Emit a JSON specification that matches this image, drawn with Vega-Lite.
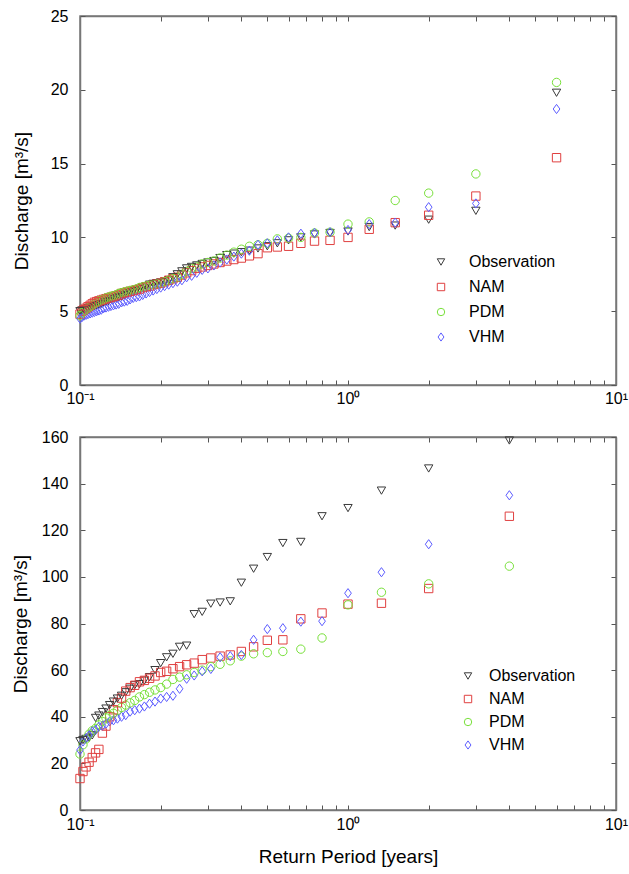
{
  "$schema": "https://vega.github.io/schema/vega-lite/v6.json",
  "padding": {"left": 10, "top": 7, "right": 6, "bottom": 5},
  "config": {
    "font": "Liberation Sans",
    "view": {"stroke": "#777777", "strokeWidth": 1.5},
    "axis": {
      "grid": false, "domainColor": "#777777", "domainWidth": 1.5, "tickColor": "#555555", "tickSize": -5,
      "labelFont": "Liberation Sans", "labelFontSize": 16, "labelColor": "#000000", "labelPadding": 17,
      "titleFont": "Liberation Sans", "titleFontSize": 19, "titleFontWeight": "normal", "titleColor": "#000000"
    },
    "legend": {
      "labelFont": "Liberation Sans", "labelFontSize": 16, "labelColor": "#000000",
      "symbolStrokeWidth": 1, "symbolSize": 55, "symbolFillColor": "transparent", "rowPadding": 9, "labelOffset": 20
    }
  },
  "datasets": {
    "top": [
      {"T": 6, "Observation": 19.8, "NAM": 15.4, "PDM": 20.5, "VHM": 18.7},
      {"T": 3, "Observation": 11.8, "NAM": 12.8, "PDM": 14.3, "VHM": 12.3},
      {"T": 2, "Observation": 11.2, "NAM": 11.5, "PDM": 13.0, "VHM": 12.05},
      {"T": 1.5, "Observation": 10.8, "NAM": 11.0, "PDM": 12.5, "VHM": 11.0},
      {"T": 1.2, "Observation": 10.7, "NAM": 10.55, "PDM": 11.05, "VHM": 10.9},
      {"T": 1.0, "Observation": 10.4, "NAM": 10.0, "PDM": 10.9, "VHM": 10.5},
      {"T": 0.857, "Observation": 10.3, "NAM": 9.8, "PDM": 10.35, "VHM": 10.35},
      {"T": 0.75, "Observation": 10.2, "NAM": 9.75, "PDM": 10.3, "VHM": 10.3},
      {"T": 0.667, "Observation": 10.0, "NAM": 9.6, "PDM": 10.0, "VHM": 10.25},
      {"T": 0.6, "Observation": 9.8, "NAM": 9.4, "PDM": 9.95, "VHM": 10.0},
      {"T": 0.545, "Observation": 9.6, "NAM": 9.35, "PDM": 9.9, "VHM": 9.8},
      {"T": 0.5, "Observation": 9.4, "NAM": 9.3, "PDM": 9.6, "VHM": 9.6},
      {"T": 0.4615, "Observation": 9.25, "NAM": 8.9, "PDM": 9.5, "VHM": 9.5},
      {"T": 0.4286, "Observation": 9.1, "NAM": 8.75, "PDM": 9.4, "VHM": 9.1},
      {"T": 0.4, "Observation": 9.0, "NAM": 8.6, "PDM": 9.2, "VHM": 8.9},
      {"T": 0.375, "Observation": 8.9, "NAM": 8.5, "PDM": 9.0, "VHM": 8.7},
      {"T": 0.353, "Observation": 8.8, "NAM": 8.4, "PDM": 8.8, "VHM": 8.5},
      {"T": 0.333, "Observation": 8.6, "NAM": 8.3, "PDM": 8.6, "VHM": 8.3},
      {"T": 0.316, "Observation": 8.4, "NAM": 8.2, "PDM": 8.4, "VHM": 8.1},
      {"T": 0.3, "Observation": 8.3, "NAM": 8.1, "PDM": 8.3, "VHM": 7.9},
      {"T": 0.2857, "Observation": 8.2, "NAM": 8.0, "PDM": 8.2, "VHM": 7.8},
      {"T": 0.2727, "Observation": 8.1, "NAM": 7.9, "PDM": 8.0, "VHM": 7.6},
      {"T": 0.2609, "Observation": 8.0, "NAM": 7.75, "PDM": 7.9, "VHM": 7.4},
      {"T": 0.25, "Observation": 7.9, "NAM": 7.6, "PDM": 7.7, "VHM": 7.3},
      {"T": 0.24, "Observation": 7.7, "NAM": 7.45, "PDM": 7.5, "VHM": 7.1},
      {"T": 0.2308, "Observation": 7.5, "NAM": 7.3, "PDM": 7.3, "VHM": 7.0},
      {"T": 0.2222, "Observation": 7.3, "NAM": 7.2, "PDM": 7.2, "VHM": 6.9},
      {"T": 0.2143, "Observation": 7.1, "NAM": 7.1, "PDM": 7.1, "VHM": 6.8},
      {"T": 0.2069, "Observation": 7.0, "NAM": 7.0, "PDM": 7.0, "VHM": 6.7},
      {"T": 0.2, "Observation": 6.95, "NAM": 6.9, "PDM": 6.9, "VHM": 6.6},
      {"T": 0.1935, "Observation": 6.9, "NAM": 6.85, "PDM": 6.85, "VHM": 6.5},
      {"T": 0.1875, "Observation": 6.85, "NAM": 6.8, "PDM": 6.8, "VHM": 6.4},
      {"T": 0.1818, "Observation": 6.8, "NAM": 6.7, "PDM": 6.75, "VHM": 6.3},
      {"T": 0.1765, "Observation": 6.7, "NAM": 6.65, "PDM": 6.7, "VHM": 6.2},
      {"T": 0.1714, "Observation": 6.6, "NAM": 6.6, "PDM": 6.65, "VHM": 6.1},
      {"T": 0.1667, "Observation": 6.5, "NAM": 6.5, "PDM": 6.6, "VHM": 6.0},
      {"T": 0.1622, "Observation": 6.4, "NAM": 6.45, "PDM": 6.5, "VHM": 5.95},
      {"T": 0.1579, "Observation": 6.35, "NAM": 6.4, "PDM": 6.45, "VHM": 5.9},
      {"T": 0.1538, "Observation": 6.3, "NAM": 6.35, "PDM": 6.4, "VHM": 5.8},
      {"T": 0.15, "Observation": 6.2, "NAM": 6.3, "PDM": 6.35, "VHM": 5.7},
      {"T": 0.1463, "Observation": 6.1, "NAM": 6.25, "PDM": 6.3, "VHM": 5.65},
      {"T": 0.1429, "Observation": 6.0, "NAM": 6.2, "PDM": 6.25, "VHM": 5.6},
      {"T": 0.1395, "Observation": 5.95, "NAM": 6.1, "PDM": 6.2, "VHM": 5.5},
      {"T": 0.1364, "Observation": 5.9, "NAM": 6.05, "PDM": 6.1, "VHM": 5.45},
      {"T": 0.1333, "Observation": 5.85, "NAM": 6.0, "PDM": 6.05, "VHM": 5.4},
      {"T": 0.1304, "Observation": 5.8, "NAM": 5.95, "PDM": 6.0, "VHM": 5.35},
      {"T": 0.1277, "Observation": 5.7, "NAM": 5.9, "PDM": 5.95, "VHM": 5.3},
      {"T": 0.125, "Observation": 5.65, "NAM": 5.85, "PDM": 5.9, "VHM": 5.25},
      {"T": 0.1224, "Observation": 5.6, "NAM": 5.8, "PDM": 5.8, "VHM": 5.2},
      {"T": 0.12, "Observation": 5.5, "NAM": 5.75, "PDM": 5.75, "VHM": 5.1},
      {"T": 0.1176, "Observation": 5.45, "NAM": 5.7, "PDM": 5.7, "VHM": 5.05},
      {"T": 0.1154, "Observation": 5.4, "NAM": 5.65, "PDM": 5.6, "VHM": 5.0},
      {"T": 0.1132, "Observation": 5.35, "NAM": 5.6, "PDM": 5.5, "VHM": 4.95},
      {"T": 0.1111, "Observation": 5.3, "NAM": 5.5, "PDM": 5.4, "VHM": 4.9},
      {"T": 0.1091, "Observation": 5.25, "NAM": 5.4, "PDM": 5.3, "VHM": 4.85},
      {"T": 0.1071, "Observation": 5.2, "NAM": 5.3, "PDM": 5.2, "VHM": 4.8},
      {"T": 0.1053, "Observation": 5.15, "NAM": 5.2, "PDM": 5.1, "VHM": 4.75},
      {"T": 0.1034, "Observation": 5.1, "NAM": 5.1, "PDM": 5.0, "VHM": 4.7},
      {"T": 0.1017, "Observation": 5.05, "NAM": 5.0, "PDM": 4.9, "VHM": 4.6},
      {"T": 0.1, "Observation": 5.0, "NAM": 4.8, "PDM": 4.7, "VHM": 4.5}
    ],
    "bottom": [
      {"T": 4, "Observation": 158.5, "NAM": 126, "PDM": 104.6, "VHM": 135},
      {"T": 2, "Observation": 146.5, "NAM": 95, "PDM": 97, "VHM": 114},
      {"T": 1.333, "Observation": 137, "NAM": 88.7, "PDM": 93.4, "VHM": 102},
      {"T": 1.0, "Observation": 129.5, "NAM": 88.3, "PDM": 88, "VHM": 93},
      {"T": 0.8, "Observation": 126, "NAM": 84.5, "PDM": 73.8, "VHM": 81},
      {"T": 0.6667, "Observation": 115, "NAM": 82, "PDM": 69, "VHM": 80.8},
      {"T": 0.5714, "Observation": 114.5, "NAM": 73, "PDM": 68, "VHM": 78},
      {"T": 0.5, "Observation": 108.5, "NAM": 72.8, "PDM": 67.5, "VHM": 77.6},
      {"T": 0.4444, "Observation": 103.5, "NAM": 70, "PDM": 67, "VHM": 73},
      {"T": 0.4, "Observation": 97.5, "NAM": 68, "PDM": 66, "VHM": 66.5},
      {"T": 0.3636, "Observation": 89.5, "NAM": 66.5, "PDM": 64, "VHM": 66},
      {"T": 0.3333, "Observation": 89, "NAM": 66, "PDM": 62.5, "VHM": 65.5},
      {"T": 0.3077, "Observation": 88.5, "NAM": 65.2, "PDM": 61.5, "VHM": 60.5},
      {"T": 0.2857, "Observation": 85, "NAM": 64.5, "PDM": 60, "VHM": 59.5},
      {"T": 0.2667, "Observation": 84, "NAM": 63, "PDM": 59, "VHM": 57.7},
      {"T": 0.25, "Observation": 70.5, "NAM": 62.3, "PDM": 58, "VHM": 56.3},
      {"T": 0.2353, "Observation": 70, "NAM": 61.5, "PDM": 57, "VHM": 52},
      {"T": 0.2222, "Observation": 67, "NAM": 60.6, "PDM": 56, "VHM": 49},
      {"T": 0.2105, "Observation": 65.5, "NAM": 59.5, "PDM": 54, "VHM": 48.5},
      {"T": 0.2, "Observation": 63, "NAM": 59, "PDM": 52.5, "VHM": 47.8},
      {"T": 0.1905, "Observation": 60, "NAM": 57.5, "PDM": 51.5, "VHM": 46.5},
      {"T": 0.1818, "Observation": 57, "NAM": 56.5, "PDM": 50.5, "VHM": 45.6},
      {"T": 0.1739, "Observation": 55.5, "NAM": 55.6, "PDM": 49.5, "VHM": 44.4},
      {"T": 0.1667, "Observation": 54, "NAM": 55, "PDM": 48.5, "VHM": 43.5},
      {"T": 0.16, "Observation": 53.5, "NAM": 53.5, "PDM": 47, "VHM": 42.8},
      {"T": 0.1538, "Observation": 52, "NAM": 52.5, "PDM": 46, "VHM": 42.2},
      {"T": 0.1481, "Observation": 50.5, "NAM": 51, "PDM": 45, "VHM": 40.7},
      {"T": 0.1429, "Observation": 49, "NAM": 48, "PDM": 44, "VHM": 40},
      {"T": 0.1379, "Observation": 47.8, "NAM": 46, "PDM": 42.7, "VHM": 39.2},
      {"T": 0.1333, "Observation": 46.5, "NAM": 43, "PDM": 41.5, "VHM": 38.5},
      {"T": 0.129, "Observation": 45, "NAM": 40, "PDM": 40.5, "VHM": 38},
      {"T": 0.125, "Observation": 43.5, "NAM": 36, "PDM": 39.5, "VHM": 37},
      {"T": 0.1212, "Observation": 42, "NAM": 33, "PDM": 38, "VHM": 36.2},
      {"T": 0.1176, "Observation": 40.5, "NAM": 26, "PDM": 36.5, "VHM": 35.7},
      {"T": 0.1143, "Observation": 39.5, "NAM": 24.5, "PDM": 35, "VHM": 34.3},
      {"T": 0.1111, "Observation": 32, "NAM": 22.5, "PDM": 34, "VHM": 33.7},
      {"T": 0.1081, "Observation": 31, "NAM": 20.5, "PDM": 32.5, "VHM": 32},
      {"T": 0.1053, "Observation": 30.5, "NAM": 18.5, "PDM": 30.5, "VHM": 30.7},
      {"T": 0.1026, "Observation": 30, "NAM": 16.5, "PDM": 28, "VHM": 29.4},
      {"T": 0.1, "Observation": 29.5, "NAM": 13.5, "PDM": 24, "VHM": 25.7}
    ]
  },
  "resolve": {"scale": {"color": "independent", "shape": "independent"}},
  "spacing": 21,
  "vconcat": [
    {
      "width": 536, "height": 369,
      "data": {"name": "top"},
      "transform": [{"fold": ["Observation", "NAM", "PDM", "VHM"], "as": ["series", "Q"]}],
      "resolve": {"axis": {"x": "independent", "y": "independent"}},
      "layer": [
        {
          "mark": {"type": "point", "filled": false, "strokeWidth": 1, "size": 70, "opacity": 1},
          "encoding": {
            "x": {"field": "T", "type": "quantitative", "scale": {"type": "log", "domain": [0.1, 10], "nice": false},
              "axis": {"title": null, "values": [0.1,0.2,0.3,0.4,0.5,0.6,0.7,0.8,0.9,1,2,3,4,5,6,7,8,9,10], "labelOverlap": false, "labelFlush": false,
                "labelExpr": "datum.value == 0.1 ? '10⁻¹' : datum.value == 1 ? '10⁰' : datum.value == 10 ? '10¹' : ''", "labelPadding": 10}},
            "y": {"field": "Q", "type": "quantitative", "scale": {"domain": [0, 25], "nice": false},
              "axis": {"title": "Discharge [m³/s]", "values": [0,5,10,15,20,25], "titlePadding": 19}},
            "color": {"field": "series", "type": "nominal",
              "scale": {"domain": ["Observation", "NAM", "PDM", "VHM"], "range": ["#3a3a3a", "#e04040", "#78e03a", "#5c5cff"]},
              "legend": {"title": null, "orient": "none", "legendX": 353, "legendY": 238}},
            "shape": {"field": "series", "type": "nominal",
              "scale": {"domain": ["Observation", "NAM", "PDM", "VHM"], "range": ["triangle-down", "square", "circle", "M0,-1.1L0.8,0L0,1.1L-0.8,0Z"]},
              "legend": {"title": null, "orient": "none", "legendX": 353, "legendY": 238}}
          }
        },
        {
          "mark": {"type": "point", "opacity": 0},
          "encoding": {
            "x": {"field": "T", "type": "quantitative", "scale": {"type": "log", "domain": [0.1, 10], "nice": false},
              "axis": {"orient": "top", "title": null, "labels": false, "values": [0.1,0.2,0.3,0.4,0.5,0.6,0.7,0.8,0.9,1,2,3,4,5,6,7,8,9,10]}},
            "y": {"field": "Q", "type": "quantitative", "scale": {"domain": [0, 25], "nice": false},
              "axis": {"orient": "right", "title": null, "labels": false, "values": [0,5,10,15,20,25]}}
          }
        }
      ]
    },
    {
      "width": 536, "height": 373,
      "data": {"name": "bottom"},
      "transform": [{"fold": ["Observation", "NAM", "PDM", "VHM"], "as": ["series", "Q"]}],
      "resolve": {"axis": {"x": "independent", "y": "independent"}},
      "layer": [
        {
          "mark": {"type": "point", "filled": false, "strokeWidth": 1, "size": 70, "opacity": 1},
          "encoding": {
            "x": {"field": "T", "type": "quantitative", "scale": {"type": "log", "domain": [0.1, 10], "nice": false},
              "axis": {"title": "Return Period [years]", "titlePadding": 15, "values": [0.1,0.2,0.3,0.4,0.5,0.6,0.7,0.8,0.9,1,2,3,4,5,6,7,8,9,10], "labelOverlap": false, "labelFlush": false,
                "labelExpr": "datum.value == 0.1 ? '10⁻¹' : datum.value == 1 ? '10⁰' : datum.value == 10 ? '10¹' : ''", "labelPadding": 11}},
            "y": {"field": "Q", "type": "quantitative", "scale": {"domain": [0, 160], "nice": false},
              "axis": {"title": "Discharge [m³/s]", "values": [0,20,40,60,80,100,120,140,160], "titlePadding": 11}},
            "color": {"field": "series", "type": "nominal",
              "scale": {"domain": ["Observation", "NAM", "PDM", "VHM"], "range": ["#3a3a3a", "#e04040", "#78e03a", "#5c5cff"]},
              "legend": {"title": null, "orient": "none", "legendX": 380, "legendY": 231, "labelOffset": 13, "rowPadding": 7}},
            "shape": {"field": "series", "type": "nominal",
              "scale": {"domain": ["Observation", "NAM", "PDM", "VHM"], "range": ["triangle-down", "square", "circle", "M0,-1.1L0.8,0L0,1.1L-0.8,0Z"]},
              "legend": {"title": null, "orient": "none", "legendX": 380, "legendY": 231, "labelOffset": 13, "rowPadding": 7}}
          }
        },
        {
          "mark": {"type": "point", "opacity": 0},
          "encoding": {
            "x": {"field": "T", "type": "quantitative", "scale": {"type": "log", "domain": [0.1, 10], "nice": false},
              "axis": {"orient": "top", "title": null, "labels": false, "values": [0.1,0.2,0.3,0.4,0.5,0.6,0.7,0.8,0.9,1,2,3,4,5,6,7,8,9,10]}},
            "y": {"field": "Q", "type": "quantitative", "scale": {"domain": [0, 160], "nice": false},
              "axis": {"orient": "right", "title": null, "labels": false, "values": [0,20,40,60,80,100,120,140,160]}}
          }
        }
      ]
    }
  ]
}
